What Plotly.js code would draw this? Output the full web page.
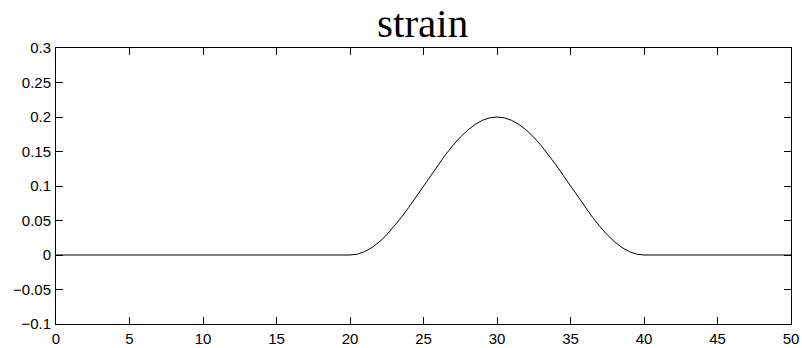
<!DOCTYPE html>
<html>
<head>
<meta charset="utf-8">
<script src="https://cdn.plot.ly/plotly-3.0.1.min.js"></script>
<style>html,body{margin:0;padding:0;background:#fff;}#chart{width:802px;height:348px;}</style>
</head>
<body>
<div id="chart"></div>
<script>
const strainX = [0, 5, 10, 15, 20, 20.5, 21, 21.5, 22, 22.5, 23, 23.5, 24, 24.5, 25, 25.5, 26, 26.5, 27, 27.5, 28, 28.5, 29, 29.5, 30,
  30.5, 31, 31.5, 32, 32.5, 33, 33.5, 34, 34.5, 35, 35.5, 36, 36.5, 37, 37.5, 38, 38.5, 39, 39.5, 40, 45, 50];
const strainY = [0, 0, 0, 0, 0, 0.0012, 0.0049, 0.0109, 0.0191, 0.0293, 0.0412, 0.0546, 0.0691, 0.0844, 0.1, 0.1156, 0.1309, 0.1454, 0.1588, 0.1707, 0.1809, 0.1891, 0.1951, 0.1988, 0.2,
  0.1988, 0.1951, 0.1891, 0.1809, 0.1707, 0.1588, 0.1454, 0.1309, 0.1156, 0.1, 0.0844, 0.0691, 0.0546, 0.0412, 0.0293, 0.0191, 0.0109, 0.0049, 0.0012, 0, 0, 0];
const xTicks = [0, 5, 10, 15, 20, 25, 30, 35, 40, 45, 50];
const yTicks = [-0.1, -0.05, 0, 0.05, 0.1, 0.15, 0.2, 0.25, 0.3];
const yTickText = ['\u22120.1', '\u22120.05', '0', '0.05', '0.1', '0.15', '0.2', '0.25', '0.3'];
const titleText = 'strain';

const trace = {
  x: strainX, y: strainY, type: 'scatter', mode: 'lines',
  line: {color: '#000', width: 1}, hoverinfo: 'skip'
};
const axisCommon = {
  showline: true, linecolor: '#000', linewidth: 1, mirror: 'ticks',
  ticks: 'inside', ticklen: 7, tickwidth: 1, tickcolor: '#000',
  showgrid: false, zeroline: false,
  tickfont: {family: 'Liberation Sans, Arial, sans-serif', size: 15, color: '#000'}
};
const layout = {
  width: 802, height: 348,
  margin: {l: 56, r: 11, t: 48, b: 24},
  paper_bgcolor: '#fff', plot_bgcolor: '#fff',
  showlegend: false,
  title: {text: titleText, font: {family: 'Liberation Serif, Times New Roman, serif', size: 41, color: '#000'},
          x: 0.527, xanchor: 'center', y: 0.895, yref: 'container', yanchor: 'bottom'},
  xaxis: Object.assign({}, axisCommon, {range: [0, 50], tickvals: xTicks, ticktext: xTicks.map(String), ticklabelstandoff: 1}),
  yaxis: Object.assign({}, axisCommon, {range: [-0.1, 0.3], tickvals: yTicks, ticktext: yTickText, ticklabelstandoff: 1})
};
Plotly.newPlot('chart', [trace], layout, {staticPlot: true, displayModeBar: false});
</script>
</body>
</html>
